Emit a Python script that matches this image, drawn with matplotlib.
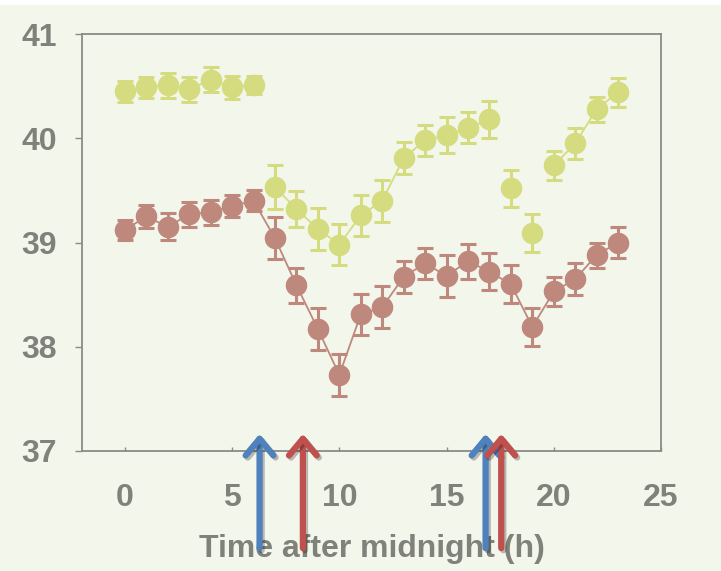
import matplotlib
matplotlib.use("Agg")
import matplotlib.pyplot as plt
import matplotlib.patheffects as pe
from matplotlib.patches import Rectangle

# hourly body temperature, two groups (mean +/- error)
hours = list(range(24))
yellow_temp = [40.45, 40.49, 40.51, 40.47, 40.56, 40.49, 40.51, 39.53, 39.32, 39.13,
               38.98, 39.26, 39.40, 39.81, 39.98, 40.03, 40.10, 40.18, 39.52, 39.09,
               39.74, 39.95, 40.28, 40.44]
yellow_err = [0.10, 0.10, 0.12, 0.12, 0.12, 0.11, 0.09, 0.21, 0.17, 0.20,
              0.20, 0.20, 0.20, 0.15, 0.15, 0.17, 0.15, 0.18, 0.18, 0.18,
              0.14, 0.15, 0.12, 0.14]
red_temp = [39.12, 39.25, 39.15, 39.27, 39.29, 39.35, 39.40, 39.04, 38.59, 38.17,
            37.73, 38.31, 38.38, 38.67, 38.80, 38.68, 38.82, 38.72, 38.60, 38.19,
            38.53, 38.65, 38.88, 39.00]
red_err = [0.10, 0.11, 0.13, 0.12, 0.12, 0.11, 0.10, 0.20, 0.17, 0.20,
           0.20, 0.20, 0.20, 0.15, 0.15, 0.20, 0.17, 0.18, 0.18, 0.18,
           0.14, 0.15, 0.12, 0.15]
# segments (start index) where the connecting line is not shown in the original
yellow_gaps = [6, 17, 18, 19]
red_gaps = []

# event markers (arrows under the x axis)
arrow_x = [6.28, 8.3, 16.82, 17.55]
arrow_col = ['#4f81bd', '#c0504d', '#4f81bd', '#c0504d']

bg = '#f3f6eb'
grey = '#8a8b85'
txt = '#80817a'
yellow = '#d5dc7f'
red = '#bf887d'

fig = plt.figure(figsize=(7.21, 5.71), dpi=100, facecolor=bg)
fig.patches.append(Rectangle((0, 1 - 5 / 571), 1, 5 / 571, transform=fig.transFigure,
                             facecolor='white', edgecolor='none', zorder=0))
ax = fig.add_axes([82 / 721, 120 / 571, 579 / 721, 417 / 571])
ax.set_facecolor(bg)

for temps, errs, gaps, col in ((red_temp, red_err, red_gaps, red),
                               (yellow_temp, yellow_err, yellow_gaps, yellow)):
    # thin connecting line, drawn segment by segment
    for i in range(len(hours) - 1):
        if i in gaps:
            continue
        ax.plot(hours[i:i + 2], temps[i:i + 2], color=col, lw=1.3)
    ax.errorbar(hours, temps, yerr=errs, color=col, ls='none', marker='o', ms=14.5,
                mec=col, mfc=col, elinewidth=2.2, capsize=5.5, capthick=2.2)

ax.set_xlim(-2, 25)
ax.set_ylim(37, 41)
ax.set_xticks([0, 5, 10, 15, 20, 25])
ax.set_yticks([37, 38, 39, 40, 41])

font = dict(family='Liberation Sans', weight='bold', size=23, color=txt)
ax.set_xticklabels([str(v) for v in ax.get_xticks()], **font)
ax.set_yticklabels([str(v) for v in ax.get_yticks()], **font)
ax.tick_params(axis='x', direction='in', length=3, width=1, color=grey, pad=23)
ax.tick_params(axis='y', direction='out', length=5, width=1, color=grey, pad=13)
for sp in ax.spines.values():
    sp.set_color(grey)
    sp.set_linewidth(1.3)

ax.set_xlabel('Time after midnight (h)', **font)
ax.xaxis.set_label_coords(0.5, -0.2)

trans = ax.get_xaxis_transform()
for x, c in zip(arrow_x, arrow_col):
    ax.annotate('', xy=(x, 0.041), xytext=(x, -0.233), xycoords=trans, textcoords=trans,
                annotation_clip=False,
                arrowprops=dict(arrowstyle='->, head_length=0.6, head_width=0.5',
                                mutation_scale=20, lw=4.5, color=c, shrinkA=0, shrinkB=0,
                                path_effects=[pe.SimpleLineShadow(offset=(1.5, -1.5), alpha=0.25),
                                              pe.Normal()]))

fig.savefig('out.png', dpi=100, facecolor=bg)
